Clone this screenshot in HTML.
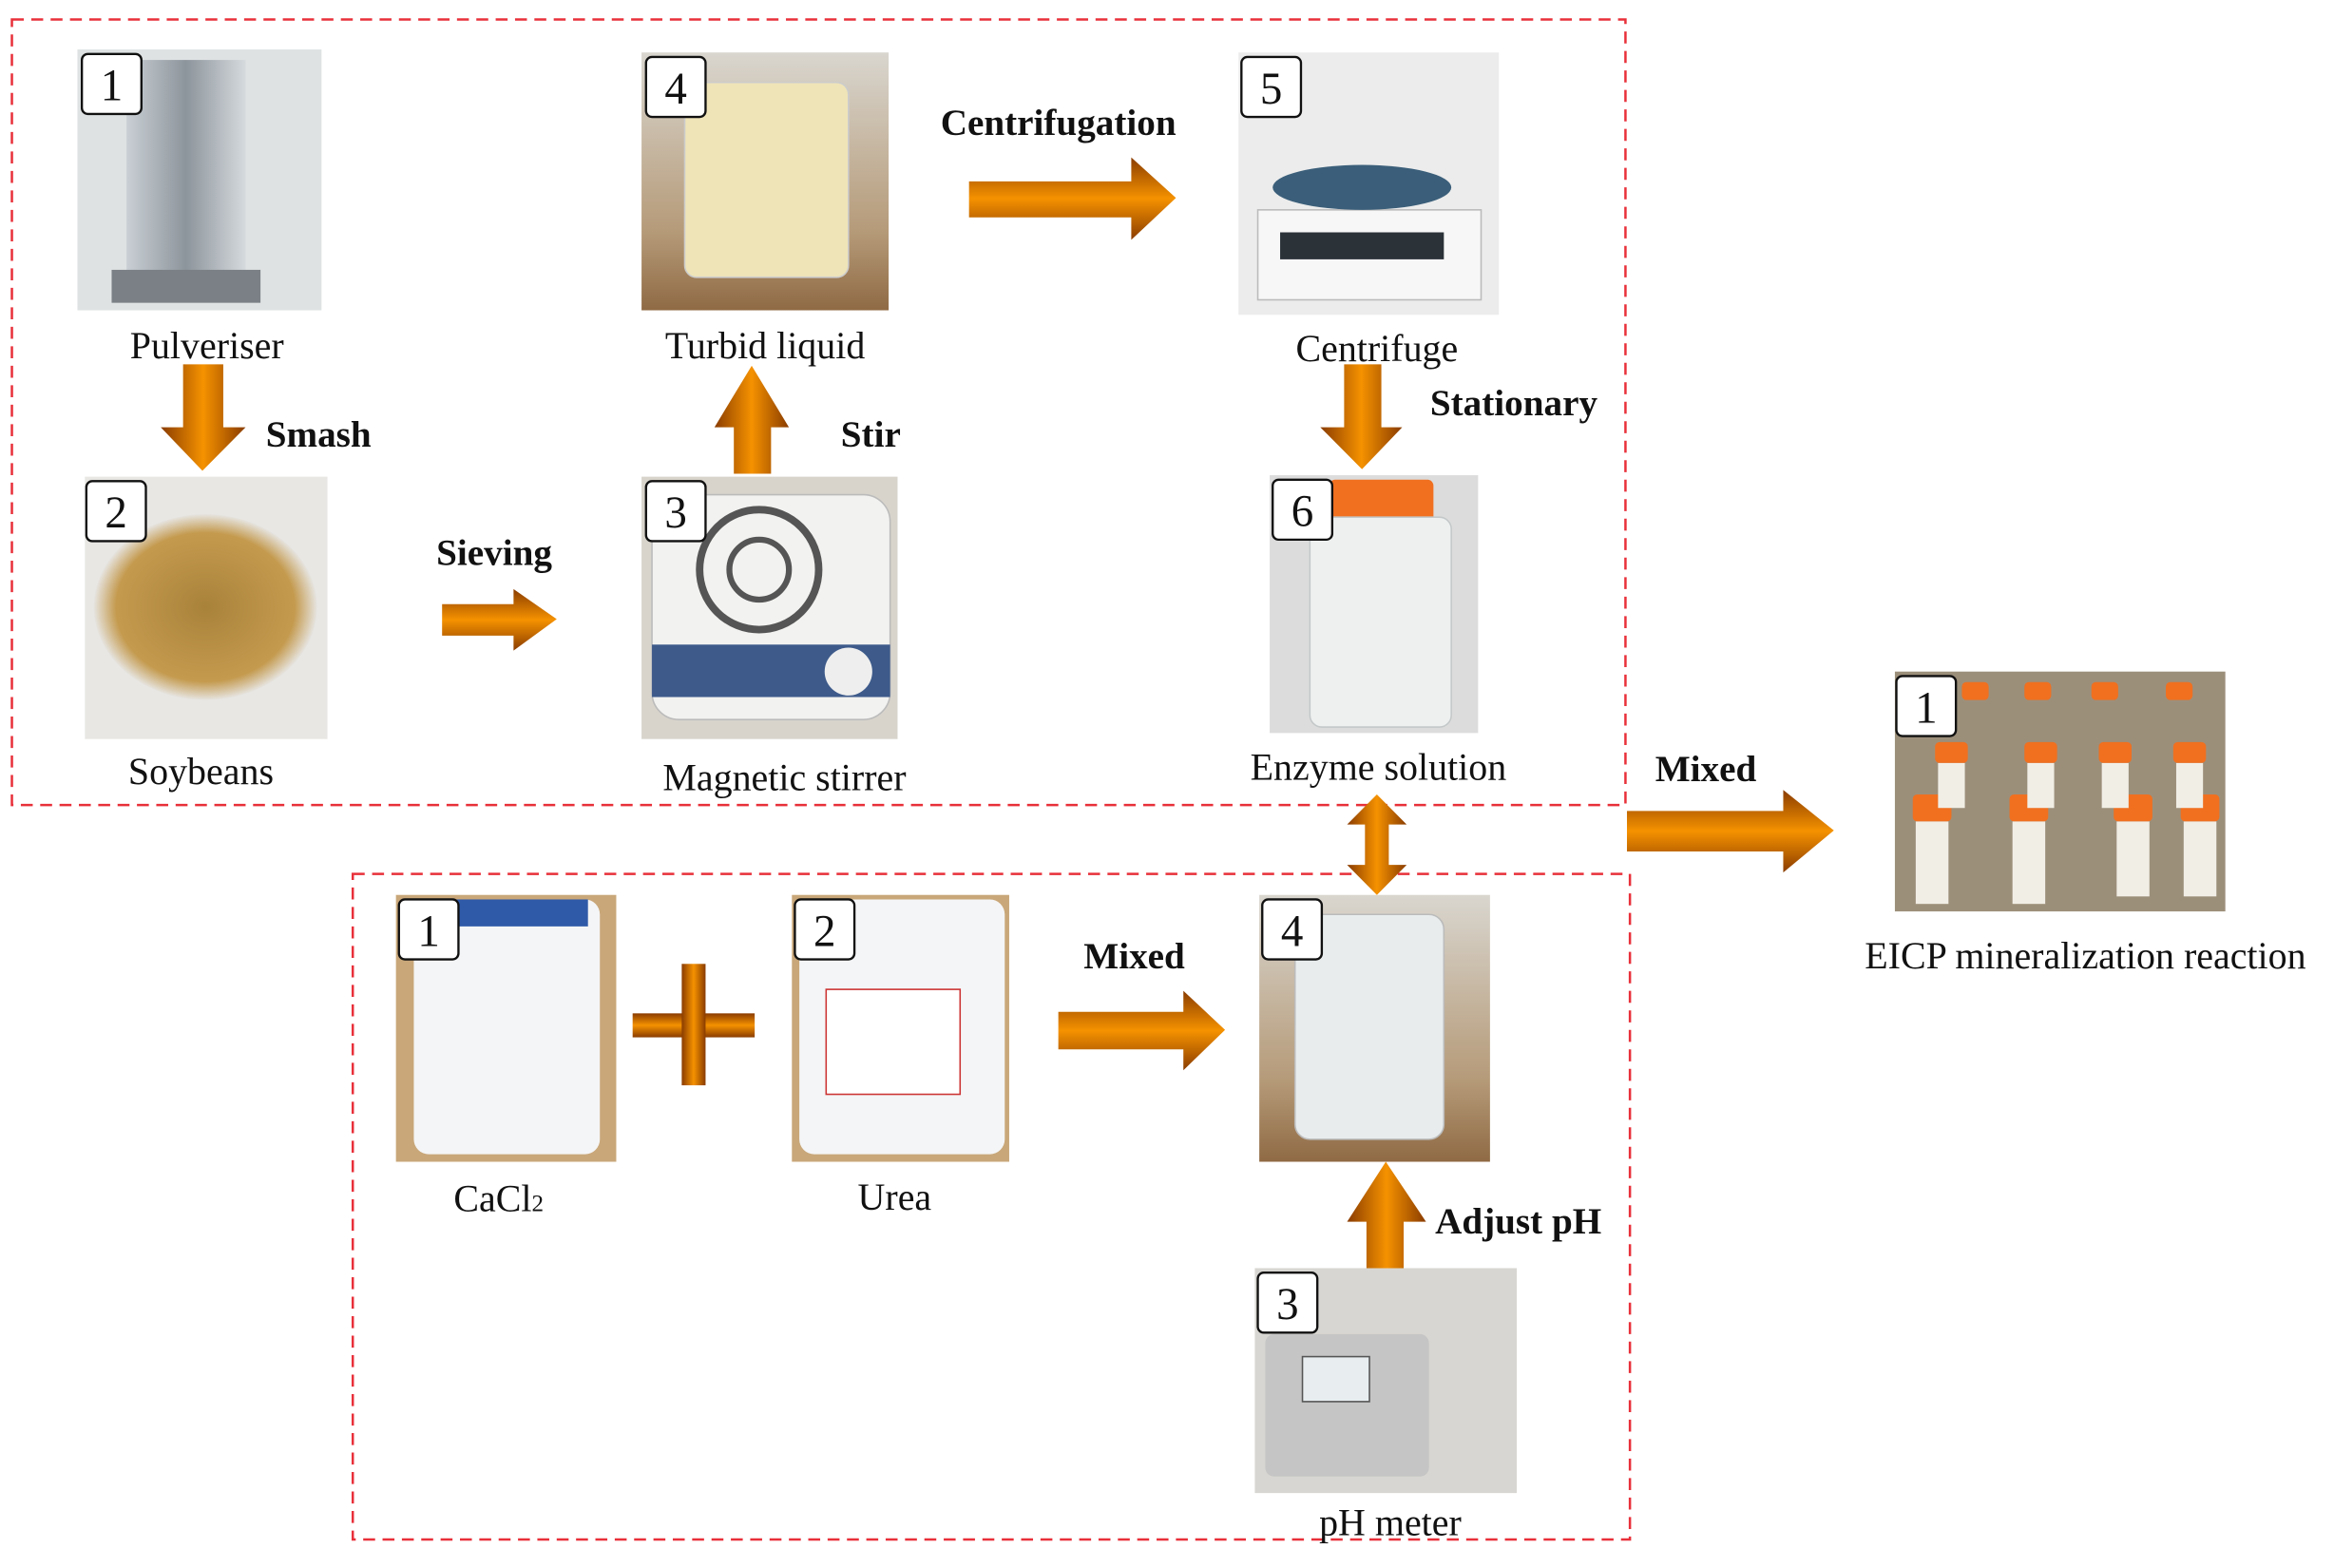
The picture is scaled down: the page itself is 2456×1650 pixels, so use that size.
<!DOCTYPE html>
<html><head><meta charset="utf-8"><style>
html,body{margin:0;padding:0;background:#fff;width:2456px;height:1650px;overflow:hidden}
svg{display:block}
text{font-family:"Liberation Serif",serif;fill:#111}
.l{font-size:25.5px;text-anchor:middle}
.b{font-size:25px;font-weight:bold;text-anchor:middle}
.n{font-size:30px;text-anchor:middle}
</style></head><body>
<svg width="2456" height="1650" viewBox="0 0 1568 1046" preserveAspectRatio="none">
<defs>
<linearGradient id="gh" x1="0" y1="0" x2="0" y2="1"><stop offset="0" stop-color="#8a3c00"/><stop offset="0.5" stop-color="#f59200"/><stop offset="1" stop-color="#8a3c00"/></linearGradient>
<linearGradient id="gv" x1="0" y1="0" x2="1" y2="0"><stop offset="0" stop-color="#8a3c00"/><stop offset="0.5" stop-color="#f59200"/><stop offset="1" stop-color="#8a3c00"/></linearGradient>
<linearGradient id="metal" x1="0" y1="0" x2="1" y2="0"><stop offset="0" stop-color="#c9cfd4"/><stop offset="0.5" stop-color="#8d959c"/><stop offset="1" stop-color="#d5dadd"/></linearGradient>
<linearGradient id="wood" x1="0" y1="0" x2="0" y2="1"><stop offset="0" stop-color="#d9d6cf"/><stop offset="0.7" stop-color="#b59a78"/><stop offset="1" stop-color="#8f6a44"/></linearGradient>
<radialGradient id="beans"><stop offset="0" stop-color="#a9823a"/><stop offset="0.8" stop-color="#c49a4e"/><stop offset="1" stop-color="#e6e4e0"/></radialGradient>
</defs>

<rect x="8" y="13" width="1084" height="524" fill="none" stroke="#e8303a" stroke-width="1.6" stroke-dasharray="8,5"/>
<rect x="237" y="583" width="858" height="444" fill="none" stroke="#e8303a" stroke-width="1.6" stroke-dasharray="8,5"/>

<rect x="52" y="33" width="164" height="174" fill="#dfe2e3"/>
<rect x="85" y="40" width="80" height="150" fill="url(#metal)"/>
<rect x="75" y="180" width="100" height="22" fill="#7a8085"/>

<rect x="431" y="35" width="166" height="172" fill="url(#wood)"/>
<rect x="460" y="55" width="110" height="130" rx="8" fill="#efe4b8" stroke="#ccc"/>

<rect x="832" y="35" width="175" height="175" fill="#ececec"/>
<rect x="845" y="140" width="150" height="60" fill="#f7f7f7" stroke="#bbb"/>
<rect x="860" y="155" width="110" height="18" fill="#2b3238"/>
<ellipse cx="915" cy="125" rx="60" ry="15" fill="#3b5f7a"/>

<rect x="57" y="318" width="163" height="175" fill="#e8e7e4"/>
<ellipse cx="138" cy="405" rx="75" ry="62" fill="url(#beans)"/>

<rect x="431" y="318" width="172" height="175" fill="#d8d4cc"/>
<rect x="438" y="330" width="160" height="150" rx="18" fill="#f2f2f0" stroke="#bbb"/>
<circle cx="510" cy="380" r="40" fill="none" stroke="#555" stroke-width="5"/>
<circle cx="510" cy="380" r="20" fill="none" stroke="#555" stroke-width="4"/>
<rect x="438" y="430" width="160" height="35" fill="#3d5a8a"/>
<circle cx="570" cy="448" r="16" fill="#eee"/>

<rect x="853" y="317" width="140" height="172" fill="#dcdcdc"/>
<rect x="893" y="320" width="70" height="30" rx="4" fill="#f07020"/>
<rect x="880" y="345" width="95" height="140" rx="8" fill="#eef0f0" stroke="#c4c8c8"/>

<rect x="1273" y="448" width="222" height="160" fill="#9c8f7a"/>
<g fill="#f07020">
<rect x="1285" y="530" width="26" height="18" rx="3"/><rect x="1350" y="530" width="26" height="18" rx="3"/><rect x="1420" y="530" width="26" height="18" rx="3"/><rect x="1465" y="530" width="26" height="18" rx="3"/>
<rect x="1300" y="495" width="22" height="14" rx="3"/><rect x="1360" y="495" width="22" height="14" rx="3"/><rect x="1410" y="495" width="22" height="14" rx="3"/><rect x="1460" y="495" width="22" height="14" rx="3"/>
<rect x="1318" y="455" width="18" height="12" rx="3"/><rect x="1360" y="455" width="18" height="12" rx="3"/><rect x="1405" y="455" width="18" height="12" rx="3"/><rect x="1455" y="455" width="18" height="12" rx="3"/>
</g>
<g fill="#f1eee6"><rect x="1287" y="548" width="22" height="55"/><rect x="1352" y="548" width="22" height="55"/><rect x="1422" y="548" width="22" height="50"/><rect x="1467" y="548" width="22" height="50"/>
<rect x="1302" y="509" width="18" height="30"/><rect x="1362" y="509" width="18" height="30"/><rect x="1412" y="509" width="18" height="30"/><rect x="1462" y="509" width="18" height="30"/></g>

<rect x="266" y="597" width="148" height="178" fill="#c9a779"/>
<rect x="278" y="600" width="125" height="170" rx="10" fill="#f4f5f6"/>
<rect x="285" y="600" width="110" height="18" fill="#2f5aa8"/>

<rect x="532" y="597" width="146" height="178" fill="#c9a779"/>
<rect x="537" y="600" width="138" height="170" rx="10" fill="#f4f5f6"/>
<rect x="555" y="660" width="90" height="70" fill="#fff" stroke="#c33"/>

<rect x="846" y="597" width="155" height="178" fill="url(#wood)"/>
<rect x="870" y="610" width="100" height="150" rx="10" fill="#e8ecec" stroke="#bbb"/>

<rect x="843" y="846" width="176" height="150" fill="#d8d6d2"/>
<rect x="850" y="890" width="110" height="95" rx="6" fill="#c5c5c5"/>
<rect x="875" y="905" width="45" height="30" fill="#e8eef0" stroke="#555"/>

<g fill="#fff" stroke="#111" stroke-width="1.5">
<rect x="55" y="36" width="40" height="40" rx="4"/><rect x="434" y="38" width="40" height="40" rx="4"/><rect x="834" y="38" width="40" height="40" rx="4"/>
<rect x="58" y="321" width="40" height="40" rx="4"/><rect x="434" y="321" width="40" height="40" rx="4"/><rect x="855" y="320" width="40" height="40" rx="4"/>
<rect x="1274" y="451" width="40" height="40" rx="4"/><rect x="268" y="600" width="40" height="40" rx="4"/><rect x="534" y="600" width="40" height="40" rx="4"/>
<rect x="848" y="600" width="40" height="40" rx="4"/><rect x="845" y="849" width="40" height="40" rx="4"/>
</g>
<text class="n" x="75" y="67">1</text><text class="n" x="454" y="69">4</text><text class="n" x="854" y="69">5</text>
<text class="n" x="78" y="352">2</text><text class="n" x="454" y="352">3</text><text class="n" x="875" y="351">6</text>
<text class="n" x="1294" y="482">1</text><text class="n" x="288" y="631">1</text><text class="n" x="554" y="631">2</text>
<text class="n" x="868" y="631">4</text><text class="n" x="865" y="880">3</text>

<polygon fill="url(#gv)" points="123,243 150,243 150,285 165,285 136,314 108,285 123,285"/>
<polygon fill="url(#gh)" points="297,403 345,403 345,393 374,413 345,434 345,424 297,424"/>
<polygon fill="url(#gv)" points="493,316 518,316 518,285 530,285 505,244 480,285 493,285"/>
<polygon fill="url(#gh)" points="651,121 760,121 760,105 790,132 760,160 760,145 651,145"/>
<polygon fill="url(#gv)" points="903,243 928,243 928,285 942,285 915,313 887,285 903,285"/>
<polygon fill="url(#gv)" points="917,550 905,550 925,530 945,550 933,550 933,577 945,577 925,597 905,577 917,577"/>
<polygon fill="url(#gh)" points="1093,541 1198,541 1198,527 1232,554 1198,582 1198,568 1093,568"/>
<rect x="425" y="676" width="82" height="16" fill="url(#gh)"/>
<rect x="458" y="643" width="16" height="81" fill="url(#gv)"/>
<polygon fill="url(#gh)" points="711,675 795,675 795,661 823,687 795,714 795,700 711,700"/>
<polygon fill="url(#gv)" points="918,846 943,846 943,815 958,815 931,775 905,815 918,815"/>

<text class="l" x="139" y="239">Pulveriser</text>
<text class="l" x="514" y="239">Turbid liquid</text>
<text class="l" x="925" y="241">Centrifuge</text>
<text class="l" x="135" y="523">Soybeans</text>
<text class="l" x="527" y="527">Magnetic stirrer</text>
<text class="l" x="926" y="520">Enzyme solution</text>
<text class="l" x="1401" y="646">EICP mineralization reaction</text>
<text class="l" x="335" y="808">CaCl<tspan font-size="16">2</tspan></text>
<text class="l" x="601" y="807">Urea</text>
<text class="l" x="934" y="1024">pH meter</text>
<text class="b" x="214" y="298">Smash</text>
<text class="b" x="332" y="377">Sieving</text>
<text class="b" x="585" y="298">Stir</text>
<text class="b" x="711" y="90">Centrifugation</text>
<text class="b" x="1017" y="277">Stationary</text>
<text class="b" x="1146" y="521">Mixed</text>
<text class="b" x="762" y="646">Mixed</text>
<text class="b" x="1020" y="823">Adjust pH</text>
</svg>
</body></html>
